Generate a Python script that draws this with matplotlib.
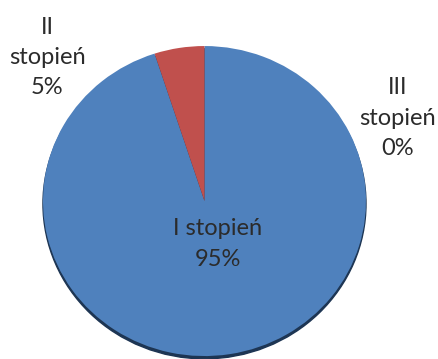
import matplotlib
matplotlib.use("Agg")
import matplotlib.pyplot as plt
from matplotlib.patches import Ellipse

labels = ['I stopień', 'II stopień', 'III stopień']
values = [95, 5, 0]
colors = ['#4f81bd', '#c0504d', '#9bbb59']

# label text as shown on the chart
label_texts = ['I stopień\n95%', 'II\nstopień\n5%', 'III\nstopień\n0%']
label_pos = [(0.084, -0.277), (-0.975, 0.926), (1.195, 0.535)]

fig = plt.figure(figsize=(4.39, 3.59), dpi=100)
ax = fig.add_axes([0, 0, 1, 1])

# soft dark edge under the pie (3D look)
ax.add_patch(Ellipse((0.0, -0.018), 2.0, 2.0, color='#1d3553', zorder=0))

ax.pie(values, colors=colors, startangle=90, counterclock=False, radius=1,
       wedgeprops=dict(linewidth=0, zorder=1))

for txt, (x, y) in zip(label_texts, label_pos):
    ax.text(x, y, txt, ha='center', va='center', fontsize=17,
            family=['Lato', 'DejaVu Sans'], color='#2b2b2b', linespacing=1.55,
            zorder=3)

ax.set_aspect('auto')
ax.set_xlim(-1.266, 1.452)
ax.set_ylim(-1.019, 1.297)
ax.axis('off')

fig.savefig('out.png', dpi=100, facecolor='white')
